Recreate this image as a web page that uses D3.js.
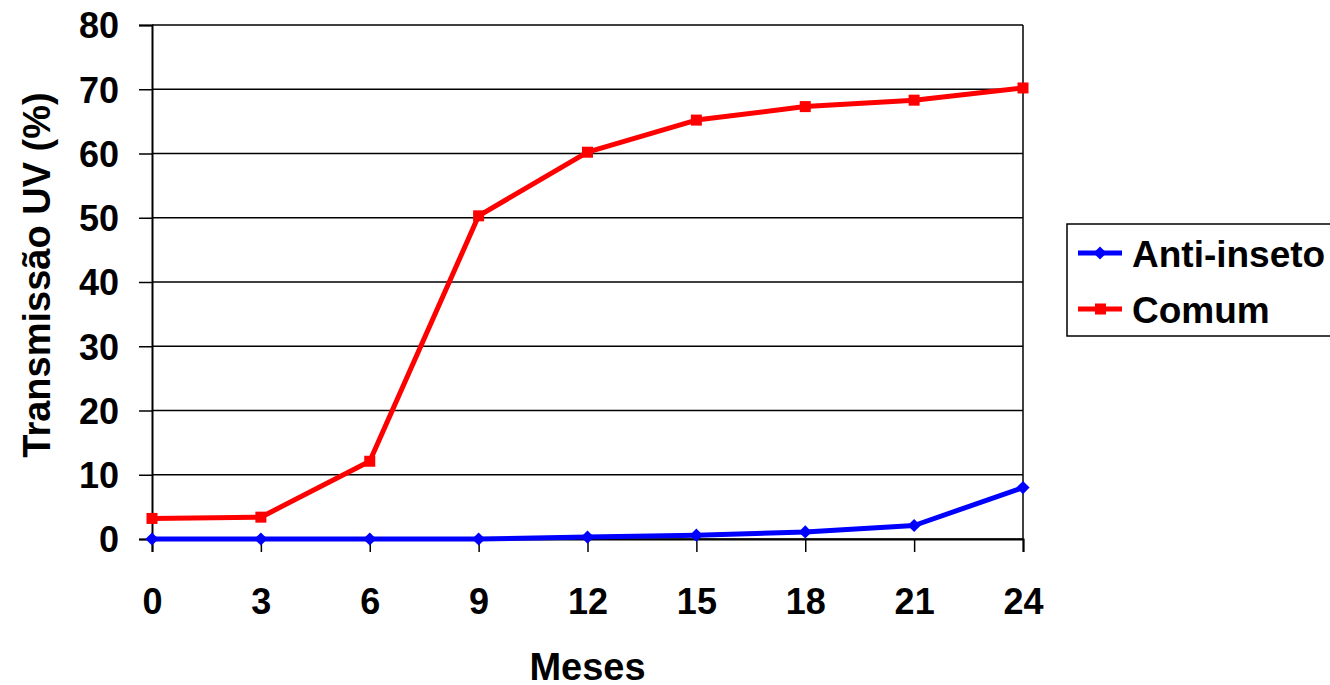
<!DOCTYPE html>
<html>
<head>
<meta charset="utf-8">
<script src="https://cdn.jsdelivr.net/npm/d3@7"></script>
<style>
  body { margin: 0; background: #fff; }
  text { font-family: "Liberation Sans", Arial, sans-serif; font-weight: bold; fill: #000; }
</style>
</head>
<body>
<svg id="chart" width="1330" height="685"></svg>
<script>
// Months and UV transmission values
const months = [0, 3, 6, 9, 12, 15, 18, 21, 24];
const antiInseto = [0, 0, 0, 0, 0.3, 0.6, 1.1, 2.1, 8.0];
const comum = [3.2, 3.4, 12.1, 50.3, 60.2, 65.2, 67.3, 68.3, 70.2];
const yTicks = [0, 10, 20, 30, 40, 50, 60, 70, 80];

const series = [
    {name: "Anti-inseto", values: antiInseto, color: "#0000ff", marker: "diamond"},
    {name: "Comum", values: comum, color: "#ff0000", marker: "square"}
];

const margin = {top: 25, left: 152, right: 307, bottom: 146};
const width = 1330 - margin.left - margin.right;
const height = 685 - margin.top - margin.bottom;

const svg = d3.select("#chart")
    .append("g")
    .attr("transform", `translate(${margin.left},${margin.top})`);

const x = d3.scaleLinear().domain([0, 24]).range([0, width]);
const y = d3.scaleLinear().domain([0, 80]).range([height, 0]);

// Horizontal gridlines
svg.append("g")
    .selectAll("line")
    .data(yTicks)
    .enter()
    .append("line")
    .attr("x1", 0)
    .attr("x2", width)
    .attr("y1", d => y(d))
    .attr("y2", d => y(d))
    .attr("stroke", "#000")
    .attr("stroke-width", 1.5);

// Right border
svg.append("line")
    .attr("x1", width).attr("x2", width)
    .attr("y1", 0).attr("y2", height)
    .attr("stroke", "#000").attr("stroke-width", 1.5);

// Y axis
const yAxis = svg.append("g")
    .call(d3.axisLeft(y).tickValues(yTicks).tickSize(13).tickPadding(20));
yAxis.select(".domain").attr("stroke-width", 2);
yAxis.selectAll(".tick line").attr("stroke-width", 1.5);
yAxis.selectAll("text").style("font-size", "36px").attr("dy", "0.36em");

// X axis
const xAxis = svg.append("g")
    .attr("transform", `translate(0,${height})`)
    .call(d3.axisBottom(x).tickValues(months).tickSize(13).tickPadding(36));
xAxis.select(".domain").attr("stroke-width", 2);
xAxis.selectAll(".tick line").attr("stroke-width", 1.5);
xAxis.selectAll("text").style("font-size", "36px");

// Axis titles
svg.append("text")
    .attr("text-anchor", "middle")
    .attr("x", width / 2)
    .attr("y", height + 141)
    .style("font-size", "38px")
    .text("Meses");

svg.append("text")
    .attr("text-anchor", "middle")
    .attr("transform", "rotate(-90)")
    .attr("x", -height / 2 + 7)
    .attr("y", -102)
    .style("font-size", "38px")
    .text("Transmissão UV (%)");

// Lines and markers
const line = d3.line()
    .x((d, i) => x(months[i]))
    .y(d => y(d));

const diamond = d3.symbol().type(d3.symbolDiamond2).size(110);

series.forEach(s => {
    svg.append("path")
        .datum(s.values)
        .attr("fill", "none")
        .attr("stroke", s.color)
        .attr("stroke-width", 5)
        .attr("stroke-linejoin", "round")
        .attr("d", line);

    if (s.marker === "square") {
        svg.append("g")
            .selectAll("rect")
            .data(s.values)
            .enter()
            .append("rect")
            .attr("x", (d, i) => x(months[i]) - 5.5)
            .attr("y", d => y(d) - 5.5)
            .attr("width", 11)
            .attr("height", 11)
            .attr("fill", s.color);
    } else {
        svg.append("g")
            .selectAll("path")
            .data(s.values)
            .enter()
            .append("path")
            .attr("transform", (d, i) => `translate(${x(months[i])},${y(d)})`)
            .attr("d", diamond)
            .attr("fill", s.color);
    }
});

// Legend
const legend = d3.select("#chart").append("g")
    .attr("transform", "translate(1067,224)");

legend.append("rect")
    .attr("x", 0).attr("y", 0)
    .attr("width", 280).attr("height", 112)
    .attr("fill", "#fff")
    .attr("stroke", "#000")
    .attr("stroke-width", 1.5);

series.forEach((s, i) => {
    const ly = 29 + i * 56;
    legend.append("line")
        .attr("x1", 11).attr("x2", 55)
        .attr("y1", ly).attr("y2", ly)
        .attr("stroke", s.color)
        .attr("stroke-width", 5);
    if (s.marker === "square") {
        legend.append("rect")
            .attr("x", 28).attr("y", ly - 5.5)
            .attr("width", 11).attr("height", 11)
            .attr("fill", s.color);
    } else {
        legend.append("path")
            .attr("transform", `translate(33,${ly})`)
            .attr("d", diamond)
            .attr("fill", s.color);
    }
    legend.append("text")
        .attr("x", 65)
        .attr("y", ly + 14)
        .style("font-size", "37px")
        .text(s.name);
});
</script>
</body>
</html>
